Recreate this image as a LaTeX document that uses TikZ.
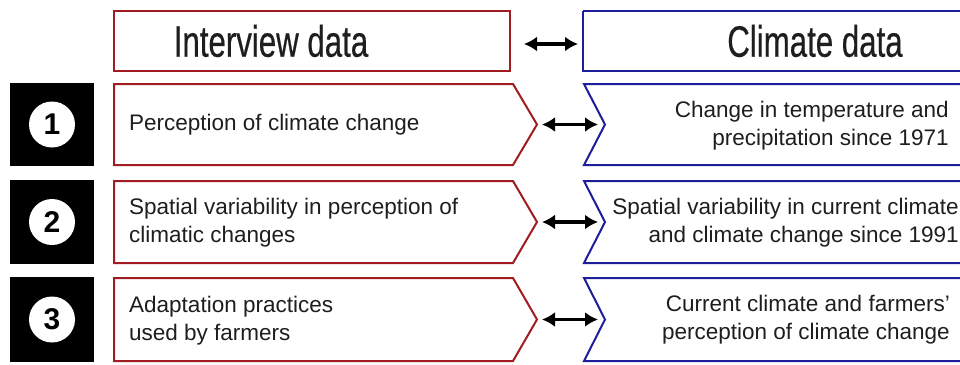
\documentclass[tikz,border=0pt]{standalone}
\usepackage{fontspec}
\setmainfont{Liberation Sans}
\newfontfamily\hdrfont[FakeStretch=0.71,FakeBold=0.4]{Liberation Sans}
\usetikzlibrary{arrows.meta}
\definecolor{boxred}{RGB}{160,28,32}
\definecolor{boxblue}{RGB}{28,30,155}
\definecolor{txtgray}{RGB}{30,30,30}
\tikzset{
  x=1pt, y=-1pt,
  redline/.style={draw=boxred, line width=2pt, line join=miter},
  blueline/.style={draw=boxblue, line width=2pt, line join=miter},
  dblarrow/.style={{Latex[length=13pt,width=15pt]}-{Latex[length=13pt,width=15pt]}, line width=3.8pt, black},
  hdrtext/.style={font=\hdrfont\fontsize{44}{48}\selectfont, text=txtgray, inner sep=0pt},
  bodytext/.style={font=\fontsize{22.5}{28}\selectfont, text=txtgray, inner sep=0pt},
  numbox/.style={fill=black, draw=none},
  numcirc/.style={circle, fill=white, minimum size=46pt, inner sep=0pt, font=\bfseries\fontsize{30}{30}\selectfont},
}
\begin{document}
\begin{tikzpicture}
\useasboundingbox (0,0) rectangle (960,364);
\fill[white] (0,0) rectangle (960,364);

% header boxes
\draw[redline] (114,11) rectangle (510,71);
\node[hdrtext, anchor=center] (hl) at (271,41) {Interview data};
\draw[blueline] (583,11) -- (975,11) (583,11) -- (583,71) -- (975,71);
\node[hdrtext, anchor=center] (hr) at (815,41) {Climate data};
\coordinate (hA) at (524,44);
\coordinate (hB) at (578,44);
\draw[dblarrow] (hA) -- (hB);

% rows
\foreach \i/\top/\bot in {1/84/165, 2/181/263, 3/278/361}{
  \pgfmathsetmacro{\mid}{(\top+\bot)/2}
  \fill[numbox] (10,\top-1) rectangle (94,\bot+1);
  \node[numcirc] (n\i) at (52,\mid) {\i};
  \draw[redline] (114,\top) -- (513,\top) -- (537,\mid) -- (513,\bot) -- (114,\bot) -- cycle;
  \draw[blueline] (975,\top) -- (584,\top) -- (605,\mid) -- (584,\bot) -- (975,\bot);
  \coordinate (a\i) at (542,\mid);
  \coordinate (b\i) at (598,\mid);
  \draw[dblarrow] (a\i) -- (b\i);
}

% texts
\node[bodytext, anchor=west] (t1) at (129,125) {Perception of climate change};
\node[bodytext, anchor=west, align=left] (t2) at (129,223) {Spatial variability in perception of\\climatic changes};
\node[bodytext, anchor=west, align=left] (t3) at (129,321) {Adaptation practices\\used by farmers};

\node[bodytext, anchor=east, align=right] (r1) at (949,126) {Change in temperature and\\precipitation since 1971};
\node[bodytext, anchor=east, align=right] (r2) at (959,223) {Spatial variability in current climate\\and climate change since 1991};
\node[bodytext, anchor=east, align=right] (r3) at (950,320) {Current climate and farmers'\\perception of climate change};
\end{tikzpicture}
\end{document}
